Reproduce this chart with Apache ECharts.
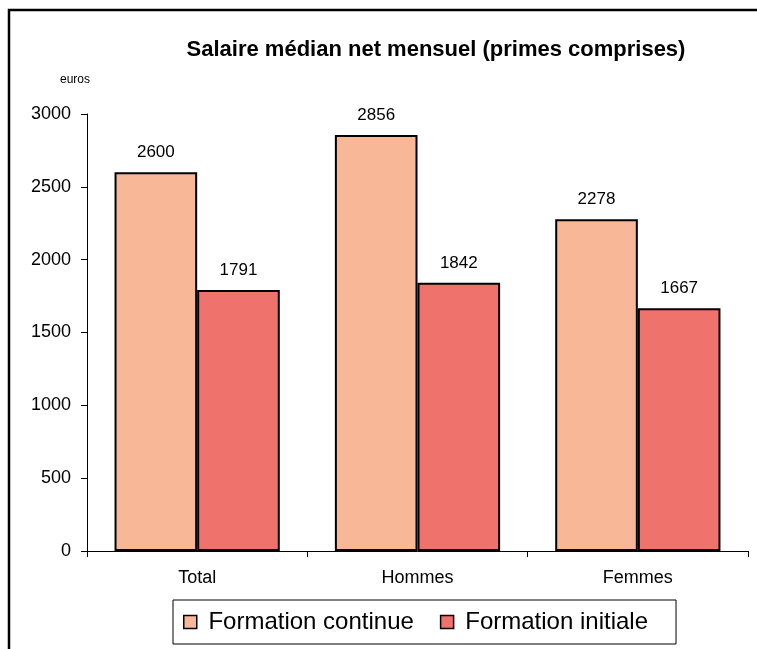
<!DOCTYPE html>
<html><head><meta charset="utf-8">
<script src="https://cdn.jsdelivr.net/npm/echarts@6/dist/echarts.min.js"></script>
<style>html,body{margin:0;padding:0;background:#fff}#c{width:757px;height:649px}</style>
</head><body><div id="c"></div>
<script>
const categories = ['Total', 'Hommes', 'Femmes'];
const formationContinue = [2600, 2856, 2278];
const formationInitiale = [1791, 1842, 1667];
const seriesNames = ['Formation continue', 'Formation initiale'];
const titleText = 'Salaire médian net mensuel (primes comprises)';
const unitText = 'euros';

const font = 'Liberation Sans, Arial, sans-serif';
const chart = echarts.init(document.getElementById('c'), null, {renderer: 'canvas'});
const labelCfg = {show: true, position: 'top', distance: 11, color: '#000', fontSize: 17, fontFamily: font};
chart.setOption({
  animation: false,
  backgroundColor: '#fff',
  graphic: [
    {type: 'rect', shape: {x: 9, y: 10, width: 800, height: 700}, style: {fill: 'none', stroke: '#000', lineWidth: 2.5}, silent: true},
    {type: 'text', left: 60, top: 74, style: {text: unitText, fontSize: 12, fontFamily: font, fill: '#000'}}
  ],
  title: {text: titleText, left: 431, top: 34, textAlign: 'center',
    textStyle: {fontSize: 22, fontWeight: 'bold', fontFamily: font, color: '#000'}},
  legend: {
    data: seriesNames, left: 173, top: 600,
    padding: [10, 28, 10, 10], borderColor: '#000', borderWidth: 1,
    itemWidth: 13, itemHeight: 13, itemGap: 26, icon: 'rect',
    formatter: n => ' ' + n,
    itemStyle: {borderColor: '#000', borderWidth: 1.5},
    textStyle: {fontSize: 24, fontFamily: font, color: '#000'}
  },
  grid: {left: 87, right: 9, top: 114, bottom: 98, containLabel: false},
  xAxis: {
    type: 'category', data: categories,
    axisLine: {lineStyle: {color: '#000', width: 1}},
    axisTick: {show: true, inside: false, length: 6, lineStyle: {color: '#000'}},
    axisLabel: {color: '#000', fontSize: 18, fontFamily: font, margin: 18}
  },
  yAxis: {
    type: 'value', min: 0, max: 3000, interval: 500,
    axisLine: {show: true, lineStyle: {color: '#000', width: 1}},
    axisTick: {show: true, length: 6, lineStyle: {color: '#000'}},
    axisLabel: {color: '#000', fontSize: 18, fontFamily: font, margin: 16, formatter: v => String(v)},
    splitLine: {show: false}
  },
  series: [
    {name: seriesNames[0], type: 'bar', data: formationContinue, barWidth: '37.5%', barGap: '0%',
      itemStyle: {color: '#F8B796', borderColor: '#000', borderWidth: 2}, label: labelCfg},
    {name: seriesNames[1], type: 'bar', data: formationInitiale, barWidth: '37.5%',
      itemStyle: {color: '#F0726C', borderColor: '#000', borderWidth: 2}, label: labelCfg}
  ]
});
</script></body></html>
